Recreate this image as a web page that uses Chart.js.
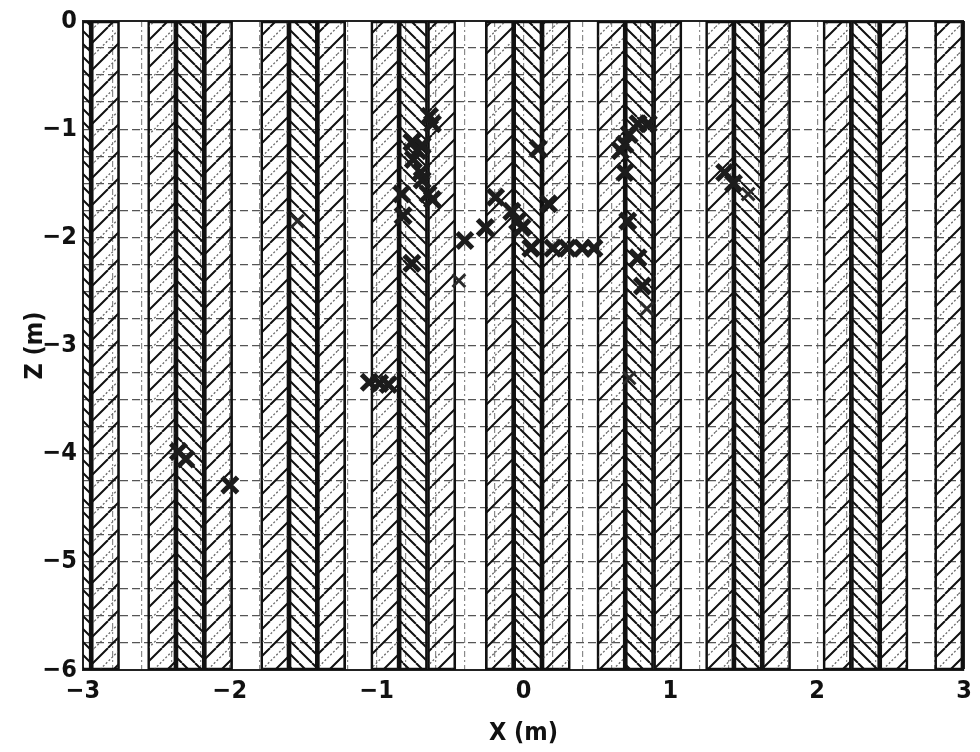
<!DOCTYPE html>
<html>
<head>
<meta charset="utf-8">
<script src="https://cdn.jsdelivr.net/npm/chart.js@4.4.0/dist/chart.umd.min.js"></script>
<style>
  html, body { margin: 0; padding: 0; background: #fff; }
  #wrap { width: 980px; height: 752px; }
</style>
</head>
<body>
<div id="wrap"><canvas id="myChart" width="980" height="752"></canvas></div>
<script>
// left edge (m) of each three-band strip, band width and hatch of each band
const stripStarts = [-3.33, -2.56, -1.79, -1.04, -0.26, 0.50, 1.24, 2.04, 2.80];
const bandWidth = 0.193;
const bandHatch = ['slash', 'back', 'slash'];

// heavy marks
const markX = [-2.35, -2.30, -2.00, -1.05, -0.98, -0.92, -0.64, -0.62, -0.76, -0.72,
  -0.75, -0.69, -0.69, -0.70, -0.83, -0.65, -0.62, -0.82, -0.76, -0.40,
  -0.26, -0.19, -0.08, -0.04, -0.01, 0.05, 0.10, 0.17, 0.20, 0.30,
  0.40, 0.48, 0.69, 0.72, 0.78, 0.85, 0.66, 0.69, 0.71, 0.78,
  0.81, 1.37, 1.43];
const markZ = [-3.98, -4.05, -4.29, -3.34, -3.35, -3.36, -0.88, -0.95, -1.12, -1.20,
  -1.28, -1.15, -1.47, -1.40, -1.60, -1.60, -1.65, -1.80, -2.24, -2.03,
  -1.91, -1.63, -1.76, -1.85, -1.91, -2.10, -1.18, -1.69, -2.10, -2.10,
  -2.10, -2.10, -1.14, -1.05, -0.95, -0.95, -1.20, -1.40, -1.85, -2.19,
  -2.45, -1.40, -1.50];

// light marks
const faintX = [-1.54, -0.44, 0.84, 0.72, 1.53];
const faintZ = [-1.85, -2.40, -2.66, -3.30, -1.60];

const xTicks = [-3, -2, -1, 0, 1, 2, 3];
const zTicks = [0, -1, -2, -3, -4, -5, -6];

function hatch(kind) {
  const s = kind === 'slash' ? 27 : 13;
  const c = document.createElement('canvas');
  c.width = s; c.height = s;
  const g = c.getContext('2d');
  g.lineWidth = 2;
  g.strokeStyle = '#111';
  g.beginPath();
  for (let k = -1; k <= 1; k++) {
    if (kind === 'slash') {
      g.moveTo(k * s, s); g.lineTo(k * s + s, 0);
    } else {
      g.moveTo(k * s, 0); g.lineTo(k * s + s, s);
    }
  }
  g.stroke();
  if (kind === 'slash') {
    g.lineWidth = 1.3;
    g.strokeStyle = '#666';
    g.setLineDash([2, 2]);
    g.beginPath();
    for (let k = -1; k <= 1; k++) {
      const cc = s / 2 + k * s;
      g.moveTo(cc - s, s); g.lineTo(cc, 0);
    }
    g.stroke();
  }
  return g.createPattern(c, 'repeat');
}

const patterns = { slash: hatch('slash'), back: hatch('back') };

const datasets = [];
datasets.push({
  type: 'scatter',
  data: markX.map((x, i) => ({ x: x, y: markZ[i] })),
  pointStyle: 'crossRot',
  pointRadius: 11,
  pointBorderWidth: 5,
  pointBorderColor: '#1c1c1c',
  pointBackgroundColor: '#1c1c1c',
  order: 0,
});
datasets.push({
  type: 'scatter',
  data: faintX.map((x, i) => ({ x: x, y: faintZ[i] })),
  pointStyle: 'crossRot',
  pointRadius: 9,
  pointBorderWidth: 3,
  pointBorderColor: '#2a2a2a',
  pointBackgroundColor: '#2a2a2a',
  order: 0,
});
stripStarts.forEach((x0) => {
  bandHatch.forEach((h, j) => {
    const a = x0 + j * bandWidth;
    datasets.push({
      type: 'bar',
      indexAxis: 'y',
      xAxisID: 'x',
      yAxisID: 'yb',
      data: [[a, a + bandWidth]],
      backgroundColor: patterns[h],
      borderColor: '#111',
      borderWidth: 2,
      borderSkipped: false,
      barPercentage: 1,
      categoryPercentage: 1,
      grouped: false,
      clip: 0,
      order: 1,
    });
  });
});

const isInt = (v) => Math.abs(v - Math.round(v)) < 1e-6;
const fmt = (v) => {
  const r = Math.round(v);
  return r < 0 ? '\u2212' + Math.abs(r) : String(r);
};
const tickFont = { family: '"Liberation Sans Narrow", "DejaVu Sans Condensed", sans-serif', size: 25, weight: 'bold' };

var ctx = document.getElementById('myChart').getContext('2d');
let myChart = new Chart(ctx, {
  type: 'scatter',
  data: { datasets: datasets },
  options: {
    responsive: false,
    animation: false,
    layout: { padding: { top: 20, right: 12, left: 0, bottom: 0 } },
    plugins: { legend: { display: false }, tooltip: { enabled: false } },
    scales: {
      x: {
        type: 'linear',
        position: 'bottom',
        min: -3,
        max: 3,
        afterFit: (s) => { s.height = 82; },
        ticks: {
          stepSize: 0.2,
          maxTicksLimit: 100,
          autoSkip: false,
          maxRotation: 0,
          padding: 6,
          color: '#111',
          font: tickFont,
          callback: (v) => (isInt(v) && xTicks.includes(Math.round(v)) ? fmt(v) : ''),
        },
        grid: {
          drawTicks: false,
          color: (c) => (c.tick && Math.abs(c.tick.value - 3) < 1e-6 ? '#222' : '#8a8a8a'),
          lineWidth: (c) => (c.tick && Math.abs(c.tick.value - 3) < 1e-6 ? 2 : 1.2),
        },
        border: {
          display: true,
          color: '#222',
          width: 2,
          dash: (c) => (c.tick && Math.abs(c.tick.value - 3) > 1e-6 ? [6, 3, 2, 3] : []),
        },
        title: {
          display: true,
          text: 'X (m)',
          color: '#111',
          font: tickFont,
          padding: { top: 0, bottom: 4 },
        },
      },
      y: {
        type: 'linear',
        position: 'left',
        min: -6,
        max: 0,
        afterFit: (s) => { s.width = 83; },
        ticks: {
          stepSize: 0.25,
          maxTicksLimit: 100,
          autoSkip: false,
          padding: 6,
          color: '#111',
          font: tickFont,
          callback: (v) => (isInt(v) && zTicks.includes(Math.round(v)) ? fmt(v) : ''),
        },
        grid: {
          drawTicks: false,
          color: (c) => (c.tick && Math.abs(c.tick.value) < 1e-6 ? '#222' : '#555'),
          lineWidth: (c) => (c.tick && Math.abs(c.tick.value) < 1e-6 ? 2 : 1.3),
        },
        border: {
          display: true,
          color: '#222',
          width: 2,
          dash: (c) => (c.tick && Math.abs(c.tick.value) > 1e-6 ? [8, 4] : []),
        },
        title: {
          display: true,
          text: 'Z (m)',
          color: '#111',
          font: tickFont,
          padding: { top: 20, bottom: 0 },
        },
      },
      yb: {
        type: 'category',
        labels: ['strip'],
        offset: true,
        display: false,
      },
    },
  },
});
</script>
</body>
</html>
